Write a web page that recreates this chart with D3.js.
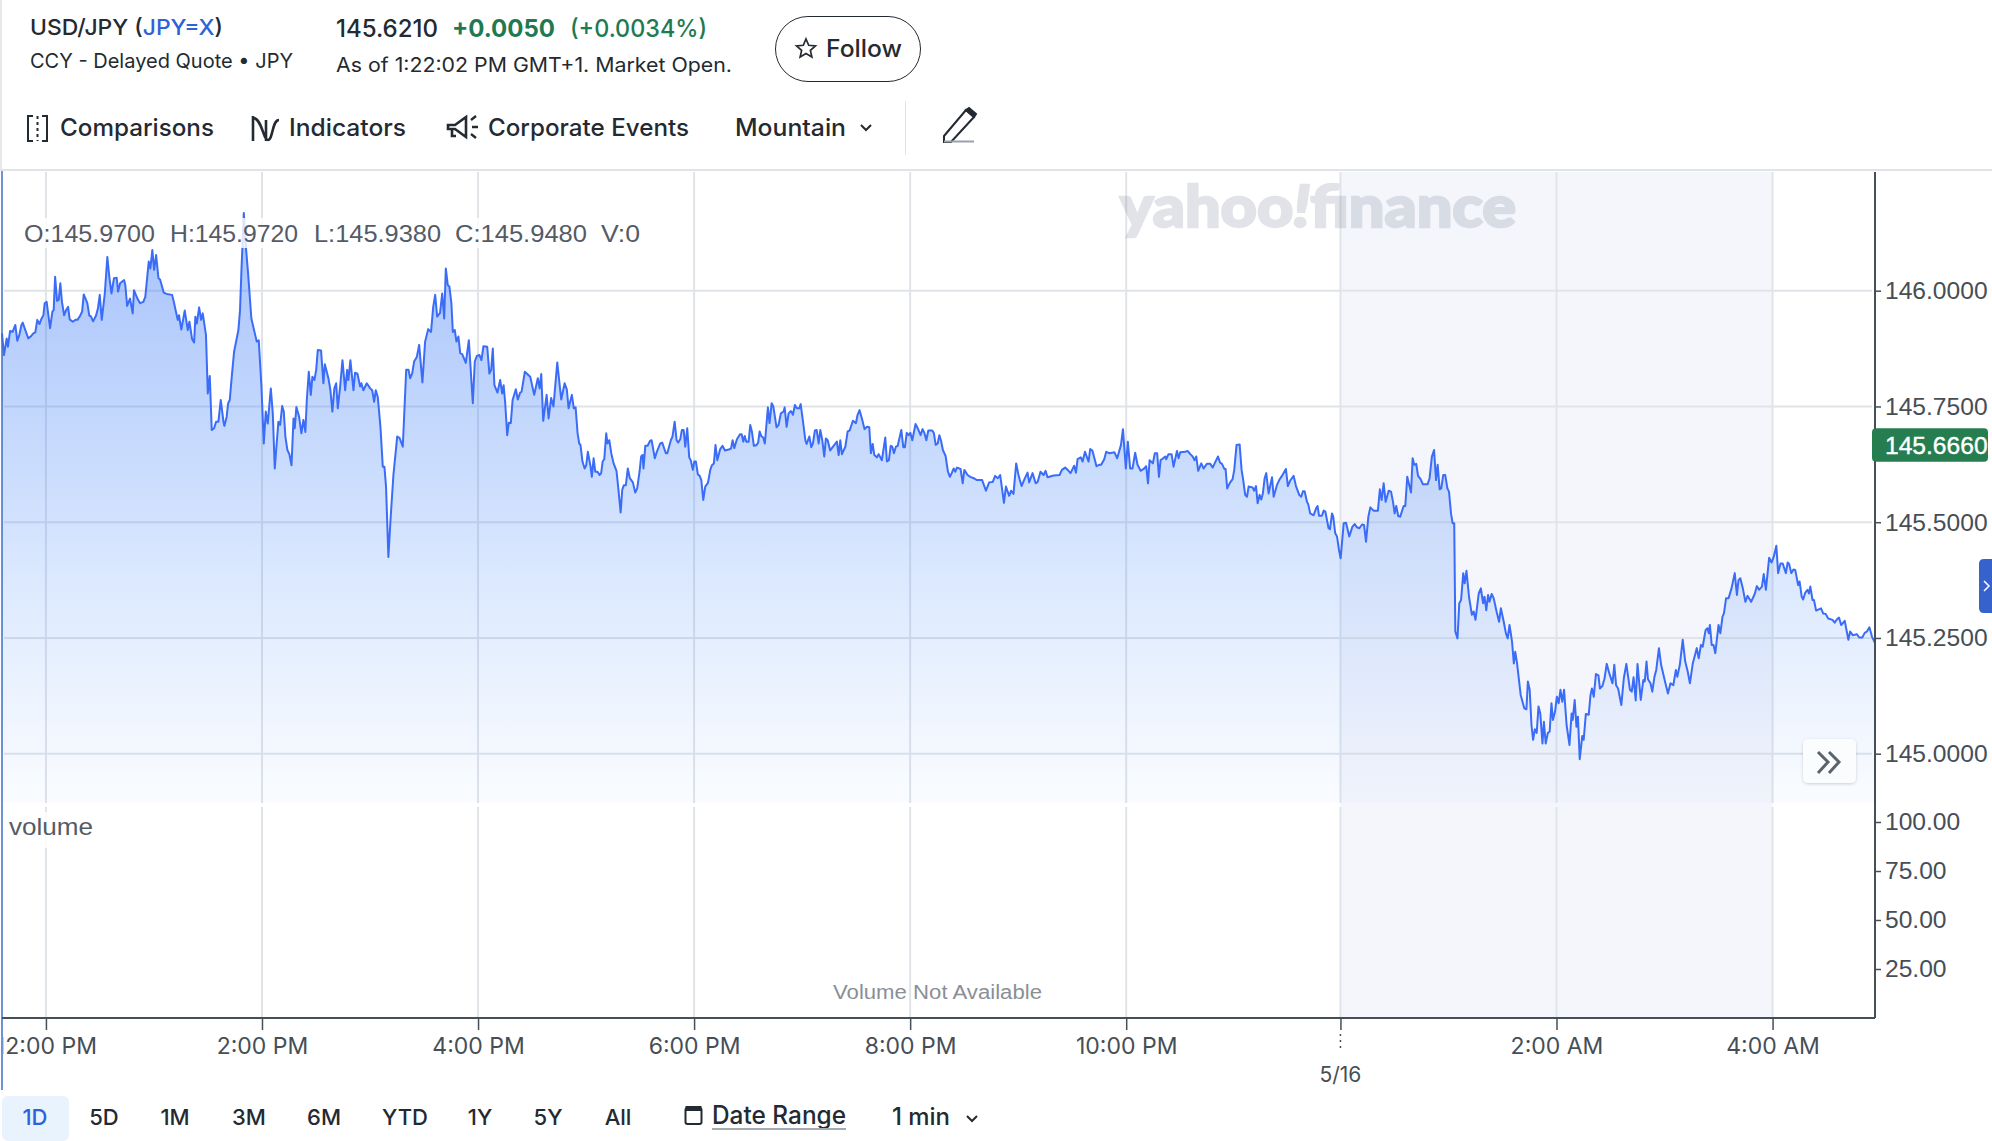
<!DOCTYPE html>
<html><head><meta charset="utf-8">
<script src="https://cdn.jsdelivr.net/npm/d3@7/dist/d3.min.js"></script>
<style>html,body{margin:0;padding:0;background:#fff;overflow:hidden}svg{display:block}text{font-family:Inter,"Noto Sans",sans-serif}</style>
</head><body><svg id="c" width="1992" height="1141"></svg>
<script>
// ---- data: sample position along the time axis (about one per minute), and the price there
const minutesA=[0,1.1,2.6,3.3,4.5,5.9,7.4,8.5,9.6,10.8,11.5,13.3,14.6,15.9,17.4,18.5,19.6,20.8,22,23,23.7,24.8,26.7,28,28.7,29.5,30.6,31.5,32.4,33.3,34.5,35.6,36.7,37.6,39.3,40.8,41.9,43.3,44.5,45.4,47.4,48.5,49.3,50.6,52.2,53.3,54.3,55.4,57.1,58.5,59.6,60.8,62.2,63.7,64.5,65.6,67.8,68.5,69.5,71.1,72.6,73.3,75.2,76.7,78.5,79.6,81.5,82.4,83.5,84.5,85.6,86.9,87.8,89.8,91.5,94.5,95.6,97.6,98.3,99.6,101.5,103.2,104.1,105.6,106.7,107.4,108.2,109.5,110.6,111.5,113.3,114.3,115.4,116.5,117.8,118.9,120.2,121.5,123,123.5,124.8,125.6,126.5,127.6,128.9,131.3,132.2,133,134.3,135.6,136.7,138.5,141.5,142.6,144.1,145.4,146.5,147.6,149.3,150.4,151.5,153.5,154.5,155.6,156.5,157.4,158.5,159.6,160.8,161.9,162.6,163.5,165,166.3,167.4,168.5,169.3,170.4,171.5,172.4,173.5,174.5,175.4,177.2,178.5,179.3,181.3,182.4,183.5,184.6,185.6,186.5,187.8,189.1,190.6,191.7,192.4,193.5,195.2,196.1,197.4,198.9,199.6,200.7,202.6,204.5,205.6,206.7,207.6,208.7,210.2,211.5,212.4,213.3,214.6,215.9,217.4,219.5,220.8,222.6,224.5,225.8,226.7,227.8,228.9,230.4,231.7,233.5,235,236.7,238.3,239.5,240.6,241.7,243.3,244.5,245.6,246.5,247.6,248.5,249.6,250.4,251.5,252.4,253.5,254.5,255.6,257.6,259.3,261.5,262.6,263.7,265.2,266.3,267.4,269.5,270.7,271.7,272.6,273.5,275.2,276.7];
const pricesA=[145.908,145.861,145.897,145.879,145.913,145.911,145.926,145.892,145.904,145.926,145.931,145.911,145.897,145.901,145.908,145.910,145.937,145.928,145.940,145.947,145.973,145.976,145.919,145.955,145.958,146.030,145.978,145.980,146.016,145.976,145.947,145.958,145.965,145.938,145.933,145.937,145.937,145.945,145.955,145.992,145.973,145.946,145.945,145.934,145.946,145.962,145.991,145.937,145.994,146.073,146.030,145.994,146.027,146.028,145.998,146.016,146.023,146.012,145.967,145.983,145.951,146.001,145.983,145.973,145.976,145.987,146.063,146.048,146.088,146.045,146.077,146.027,146.024,145.996,145.993,145.991,145.973,145.937,145.947,145.916,145.957,145.915,145.933,145.895,145.888,145.944,145.929,145.964,145.937,145.951,145.904,145.778,145.816,145.699,145.703,145.717,145.717,145.764,145.717,145.708,145.728,145.757,145.764,145.814,145.868,145.915,145.958,146.045,146.168,146.088,146.037,145.940,145.890,145.893,145.793,145.670,145.739,145.713,145.789,145.735,145.616,145.717,145.710,145.751,145.739,145.685,145.656,145.647,145.623,145.724,145.703,145.749,145.728,145.692,145.721,145.695,145.764,145.825,145.775,145.814,145.807,145.829,145.872,145.871,145.800,145.841,145.811,145.785,145.739,145.789,145.800,145.746,145.793,145.850,145.785,145.829,145.807,145.850,145.785,145.823,145.821,145.793,145.800,145.785,145.800,145.789,145.785,145.760,145.785,145.771,145.706,145.620,145.620,145.577,145.425,145.512,145.602,145.685,145.682,145.663,145.829,145.829,145.811,145.821,145.847,145.857,145.883,145.802,145.890,145.917,145.911,145.965,145.991,145.944,145.952,145.994,145.940,146.048,146.012,146.009,145.973,145.911,145.915,145.890,145.901,145.865,145.863,145.844,145.893,145.757,145.847,145.859,145.861,145.850,145.880,145.879,145.821,145.829,145.875,145.796,145.780,145.807];
const minutesB=[277.8,278.6,279.5,280.6,281.5,282.6,283.6,285.4,286.5,287.8,288.6,290.4,293.4,295.6,297.6,298.6,299.5,300.6,302.5,303.6,305,306.3,308.4,310.6,312.5,313.7,314.7,316.5,317.6,318.6,319.7,320.6,321.3,322.4,323.6,324.5,325.4,326.9,327.6,328.6,329.5,330.8,331.9,332.8,333.6,334.5,335.6,336.3,337.3,338.4,339.7,341.3,342.4,343.6,344.5,345.4,346.5,347.6,348.7,350.4,351.7,352.8,354.1,355,355.8,356.3,357.3,358.6,360,360.8,362.6,363.7,365.6,366.7,368.7,369.5,371.5,372.4,373.6,374.7,375.6,376.7,377.6,378.6,379.5,380.6,381.7,382.6,383.7,384.5,385.4,386.5,387.5,388.4,389.5,390.6,392.1,393.4,394.3,395.4,396.3,397.3,398.9,400.2,401.5,403.6,404.9,405.8,406.7,408.2,409.9,410.8,411.7,412.5,413.4,414.7,415.6,416.5,417.6,418.9,420,420.8,421.7,422.8,423.7,425.4,426.3,427.5,428.4,430.2,431.3,432.6,434.1,434.7,435.8,436.9,438.2,439.3,440.4,441.5,442.8,443.6,444.9,446.2,446.9,448.4,449.5,450.4,451.5,452.5,453.6,454.5,455.6,456.7,457.6,458.6,460,461.9,463.7,464.7,465.6,466.5,468.4,469.7,470.8,472.6,474.3,475.2,476.3,477.6,479.1,480.4,481.7,482.6,483.6,484.5,486,486.9,488.7,490.6,491.5,492.6,493.6,494.5,495.4,496.5,497.5,499.5,500.6,501.5,502.5,503.6,504.5,505.6,507.4,508.6,510.2,511.3,512.3,513.4,514.5,516.7,517.6,518.6,519.7,520.6,521.5,522.6,524.1,525.4,526.5,527.6,528.6,529.5,530.4,532.4,533.6,534.5,536.3,537.8,539.7,541.5];
const pricesB=[145.778,145.796,145.757,145.688,145.715,145.714,145.764,145.787,145.765,145.780,145.782,145.825,145.814,145.775,145.811,145.789,145.820,145.719,145.775,145.724,145.768,145.750,145.845,145.765,145.800,145.787,145.746,145.775,145.746,145.748,145.692,145.670,145.667,145.631,145.616,145.623,145.652,145.620,145.598,145.638,145.609,145.609,145.602,145.606,145.631,145.636,145.692,145.670,145.677,145.649,145.627,145.611,145.570,145.521,145.570,145.580,145.580,145.616,145.595,145.586,145.564,145.573,145.609,145.642,145.645,145.616,145.665,145.665,145.676,145.677,145.638,145.652,145.670,145.672,145.649,145.649,145.677,145.685,145.717,145.677,145.672,145.679,145.699,145.699,145.663,145.703,145.640,145.633,145.613,145.631,145.631,145.603,145.600,145.591,145.548,145.577,145.585,145.613,145.623,145.627,145.667,145.634,145.658,145.665,145.655,145.657,145.659,145.677,145.660,145.679,145.690,145.690,145.674,145.686,145.674,145.674,145.710,145.696,145.665,145.666,145.672,145.696,145.686,145.683,145.670,145.748,145.714,145.757,145.750,145.705,145.710,145.735,145.739,145.748,145.706,145.735,145.740,145.732,145.753,145.746,145.746,145.755,145.717,145.677,145.669,145.685,145.662,145.670,145.698,145.699,145.670,145.699,145.677,145.642,145.681,145.677,145.655,145.665,145.674,145.645,145.677,145.647,145.663,145.696,145.698,145.719,145.714,145.732,145.742,145.724,145.701,145.706,145.705,145.649,145.669,145.645,145.640,145.647,145.634,145.683,145.631,145.634,145.665,145.663,145.649,145.663,145.665,145.699,145.662,145.662,145.693,145.688,145.693,145.677,145.712,145.703,145.688,145.701,145.693,145.677,145.698,145.698,145.692,145.667,145.670,145.688,145.677,145.656,145.643,145.609,145.598,145.607,145.616,145.609,145.618,145.615,145.584,145.613,145.602,145.598,145.595,145.591];
const minutesC=[544.4,546.5,548.3,550.3,551.6,553.1,554.4,556.5,557.6,559.4,560.5,561.8,563.3,564.8,566.3,567.9,569.6,570.5,572.4,574.1,575.2,576.8,578.5,579.6,580.7,584.1,587.4,588.7,590.5,592.4,593.5,595.5,596.5,597.4,599.2,600.2,601.5,603.5,604.4,605.7,607.9,609.4,610.5,612.2,613.3,615.2,617.9,619.4,621.5,622.6,624.2,625.3,626.6,627.9,629.4,630.7,632.4,634.1,635.5,636.5,637.4,639.2,640.3,641.6,642.6,643.5,644.6,646.1,646.6,647.9,649.6,650.7,652.6,653.5,654.4,657.2,658.5,660,661.3,662.4,663.3,664.4,666.1,667.4,669.2,671.1,672.4,674.4,675.4,676.5,677.6,678.9,679.6,680.5,682,683.5,684.4,685.7,687.4,688.5,689.4,690.5,691.5,692.4,694.6,695.5,696.5,697.4,698.5,699.4,700.3,701.3,702.2,703.5,705.4,706.3,708.1,709.4,710.9,713.1,714.2,715.5,717.4,718.7,720.5,721.6,722.6,723.5,724.8,725.5,726.6,728.5,730,730.7,731.5,733.1,734.1,735,736.8,737.6,738.7,739.4,740.5,741.5,742.6,743.5,745.2,746.5,748.3,750,751.3,752.6,753.9,755.4,756.5,757.6,758.9,760,761.8,764.2,765.3,766.3,767.4,768.5,770.2,771.5,772.6,773.5,774.4,775.5,776.6,778.5,779.4,780.5,782.6,783.5,784.4,785.5,786.5,787.9,789.2,791.8,792.9,794.2,795.4,796.5,797.4,798.5,799.4,800.5,801.6,802.8,803.7,804.8,805.7,806.6];
const pricesC=[145.591,145.568,145.586,145.587,145.600,145.595,145.602,145.542,145.577,145.557,145.568,145.561,145.627,145.598,145.578,145.593,145.607,145.586,145.606,145.584,145.587,145.609,145.602,145.611,145.597,145.601,145.602,145.613,145.618,145.611,145.606,145.622,145.607,145.636,145.640,145.631,145.652,145.631,145.658,145.654,145.621,145.624,145.624,145.636,145.652,145.649,145.651,145.638,145.667,145.701,145.616,145.674,145.616,145.616,145.650,145.624,145.611,145.615,145.621,145.584,145.634,145.627,145.649,145.649,145.598,145.634,145.637,145.642,145.636,145.647,145.647,145.620,145.654,145.638,145.651,145.652,145.654,145.647,145.642,145.634,145.642,145.611,145.627,145.616,145.626,145.626,145.618,145.634,145.642,145.629,145.626,145.615,145.615,145.573,145.585,145.593,145.613,145.667,145.668,145.613,145.591,145.559,145.555,145.577,145.575,145.568,145.578,145.541,145.559,145.549,145.562,145.595,145.606,145.562,145.597,145.555,145.580,145.591,145.600,145.615,145.578,145.590,145.600,145.578,145.559,145.555,145.567,145.567,145.544,145.539,145.519,145.515,145.531,145.535,145.514,145.514,145.525,145.523,145.487,145.485,145.519,145.512,145.476,145.469,145.440,145.422,145.498,145.499,145.469,145.490,145.496,145.489,145.487,145.495,145.494,145.458,145.512,145.532,145.525,145.525,145.571,145.548,145.584,145.544,145.568,145.566,145.544,145.519,145.535,145.513,145.512,145.535,145.535,145.598,145.564,145.638,145.624,145.626,145.600,145.593,145.582,145.582,145.595,145.642,145.656,145.591,145.624,145.571,145.573,145.602,145.602,145.573,145.566,145.519,145.498,145.498];
const minutesD=[807.2,808.4,809.4,810.4,811.6,812.4,813.4,814.8,816.4,817.4,818.4,820.2,821.4,822.6,823.4,824.4,825.4,826.2,827.4,828.5,830.1,831.5,832.5,834.1,835.3,836.3,837.3,838.7,839.7,840.5,841.5,843.5,845.5,846.7,847.5,848.5,849.5,850.4,851.4,852.4,853.4,854.4,855.6,856.4,857.4,858.6,859.6,860.6,861.4,862.6,863.6,864.6,865.6,866.6,867.6,869,870.6,871.8,872.4,873.5,874.5,875.3,876.3,877.7,878.5,879.7,881.3,882.3,883.1,884.1,885.3,886.7,887.5,888.9,890.1,891.3,892.7,894.5,895.5,896.5,897.6,899.4,900.8,902.2,904.2,905.2,906.2,907.4,908.4,910.2,911.6,912.4,913.4,914.2,915.6,916.6,917.8,918.8,920.3,921.5,923.9,925.3,926.7,928.3,929.7,930.5,931.9,933.5,934.9,936.3,937.5,939.1,941.3,942.4,943.6,944.6,946.2,947.2,948,948.6,949.6,950.6,951.6,953.4,954.4,955.6,956.4,957.6,959,960.6,962.4,963.6,964.5,965.5,966.9,968.3,969.5,971.5,973.5,974.7,975.9,977.5,978.5,979.7,981.5,982.9,984.1,985.5,986.5,987.8,989,990.8,991.8,992.6,993.8,995,996,997.6,998.4,999.6,1000.4,1001.6,1002.8,1003.6,1004.4,1005.6,1006.4,1007.6,1010.3,1011.5,1012.9,1014.3,1016.7,1017.9,1019.1,1020.3,1021.5,1023.5,1025.5,1026.5,1027.9,1030.3,1031.5,1033.2,1034.6,1035.8,1037.2,1038.6,1040.2];
const pricesD=[145.264,145.249,145.325,145.332,145.390,145.368,145.395,145.339,145.300,145.307,145.289,145.346,145.357,145.325,145.339,145.310,145.343,145.328,145.345,145.336,145.307,145.285,145.314,145.285,145.260,145.249,145.278,145.242,145.195,145.220,145.195,145.127,145.098,145.096,145.156,145.138,145.062,145.030,145.053,145.045,145.102,145.087,145.022,145.069,145.022,145.045,145.048,145.109,145.073,145.091,145.123,145.109,145.138,145.112,145.138,145.062,145.019,145.087,145.073,145.116,145.058,145.080,144.988,145.038,145.030,145.086,145.084,145.127,145.141,145.123,145.172,145.169,145.141,145.146,145.163,145.194,145.174,145.152,145.192,145.148,145.141,145.105,145.163,145.194,145.138,145.134,145.165,145.115,145.194,145.116,145.159,145.156,145.199,145.161,145.152,145.134,145.166,145.181,145.228,145.192,145.152,145.130,145.152,145.148,145.181,145.166,145.192,145.246,145.199,145.177,145.152,145.195,145.228,145.206,145.235,145.231,145.267,145.271,145.260,145.278,145.235,145.235,145.217,145.278,145.260,145.296,145.303,145.336,145.336,145.357,145.390,145.343,145.375,145.379,145.357,145.328,145.341,145.328,145.345,145.362,145.354,145.361,145.388,145.354,145.423,145.413,145.426,145.449,145.390,145.411,145.411,145.390,145.413,145.410,145.390,145.398,145.397,145.364,145.372,145.339,145.333,145.348,145.354,145.346,145.361,145.332,145.332,145.309,145.314,145.303,145.302,145.292,145.289,145.283,145.290,145.294,145.278,145.287,145.246,145.264,145.256,145.258,145.251,145.251,145.261,145.264,145.273,145.253,145.240];
const priceTicks=[146,145.75,145.5,145.25,145];
const volumeTicks=[100,75,50,25];
const timeTicks=[24.4,144.4,264.4,384.4,504.4,624.4,743.4,863.4,983.4];
const timeLabels=["12:00 PM","2:00 PM","4:00 PM","6:00 PM","8:00 PM","10:00 PM","","2:00 AM","4:00 AM"];
const dateTick=743.4, dateLabel="5/16";
const sessionBand=[743.4,983.4];
const rangeButtons=["1D","5D","1M","3M","6M","YTD","1Y","5Y","All"];
const ohlcLabels=["O:145.9700","H:145.9720","L:145.9380","C:145.9480","V:0"];
const lastPrice=145.6660;

// ---- layout
const L=2,R=1875,T=172,PB=803,VT=807,B=1018;
const minutes=[...minutesA,...minutesB,...minutesC,...minutesD];
const prices=[...pricesA,...pricesB,...pricesC,...pricesD];
const data=d3.zip(minutes,prices).map(([m,p])=>({m,p}));
const x=d3.scaleLinear().domain([0,1040.3]).range([L,R]);
const y=d3.scaleLinear().domain([145,146]).range([753.7,290.7]);
const v=d3.scaleLinear().domain([0,100]).range([B,822]);
const svg=d3.select("#c");
const defs=svg.append("defs");
const g=defs.append("linearGradient").attr("id","fill").attr("gradientUnits","userSpaceOnUse").attr("x1",0).attr("x2",0).attr("y1",T).attr("y2",PB);
g.append("stop").attr("offset",0).attr("stop-color","#2f6df6").attr("stop-opacity",.46);
g.append("stop").attr("offset",.5).attr("stop-color","#3f82f8").attr("stop-opacity",.26);
g.append("stop").attr("offset",1).attr("stop-color","#5a9bff").attr("stop-opacity",.03);
defs.append("clipPath").attr("id","xc0").append("rect").attr("x",-43).attr("y",0).attr("width",200).attr("height",60);
const sh=defs.append("filter").attr("id","sh").attr("x","-30%").attr("y","-30%").attr("width","160%").attr("height","160%");
sh.append("feDropShadow").attr("dx",0).attr("dy",1).attr("stdDeviation",1.5).attr("flood-color","#000").attr("flood-opacity",.18);

function txt(par,xx,yy,s,size,weight,fill,width,anchor){
  const n=par.append("text").attr("x",xx).attr("y",yy).text(s).attr("font-size",size).attr("font-weight",weight).attr("fill",fill);
  if(anchor)n.attr("text-anchor",anchor);
  if(width)n.attr("textLength",width).attr("lengthAdjust","spacingAndGlyphs");
  return n;
}
const DARK="#232a31",GREEN="#1f7a52",AX="#464e56",LIB="'Liberation Sans'";

// ---- header
svg.append("line").attr("x1",1).attr("x2",1).attr("y1",0).attr("y2",170).attr("stroke","#e6e8ec").attr("stroke-width",2);
const h=svg.append("g");
const t1=txt(h,30,34.5,"",22,500,DARK);
t1.append("tspan").text("USD/JPY (");
t1.append("tspan").attr("fill","#2e62d9").text("JPY=X");
t1.append("tspan").text(")");
t1.attr("textLength",193).attr("lengthAdjust","spacingAndGlyphs");
txt(h,30,67.5,"CCY - Delayed Quote • JPY",20,400,DARK,263);
txt(h,336,36.5,"145.6210",24,500,DARK,102);
txt(h,452,37,"+0.0050",24,700,GREEN,103);
txt(h,570,37,"(+0.0034%)",24,500,GREEN,137);
txt(h,336,72,"As of 1:22:02 PM GMT+1. Market Open.",20,400,DARK,396);
h.append("rect").attr("x",775.5).attr("y",16.5).attr("width",145).attr("height",65).attr("rx",32.5).attr("fill","#fff").attr("stroke","#232a31").attr("stroke-width",1);
const star=d3.range(10).map(i=>{const r=i%2?4.6:10,a=-Math.PI/2+i*Math.PI/5;return [806+r*Math.cos(a),49+r*Math.sin(a)].join(",")}).join(" ");
h.append("polygon").attr("points",star).attr("fill","none").attr("stroke",DARK).attr("stroke-width",1.7);
txt(h,826,57,"Follow",24,500,DARK,76);
// toolbar
txt(h,60,136,"Comparisons",24,500,DARK,154);
txt(h,289,136,"Indicators",24,500,DARK,117);
txt(h,488,136,"Corporate Events",24,500,DARK,201);
txt(h,735,136,"Mountain",24,500,DARK,111);
const st={fill:"none",stroke:DARK,"stroke-width":2};
const pth=(d,o={})=>{const n=h.append("path").attr("d",d);Object.entries({...st,...o}).forEach(([k,val])=>n.attr(k,val));return n};
pth("M33,116H28V141H33M42,116H47V141H42"); pth("M37.5,116V141",{"stroke-dasharray":"3 3"});
pth("M253,116V141M253,118C262,118 263,140 268,140C273,140 272,120 279,120M266,120V141",{"stroke-width":2.6});
pth("M448,125H455L466,117V137L455,129H448ZM452,129V136H456",{"stroke-width":2.6});
pth("M471,120L476,116M472,127H478M471,134L476,138",{"stroke-width":2.4});
pth("M861,125L866,130L871,125");
h.append("line").attr("x1",905.5).attr("x2",905.5).attr("y1",101).attr("y2",155).attr("stroke","#dfe2e6");
pth("M944,136L966,110L974,117L951,142H944Z"); pth("M966,110L969,108L976,114L974,117Z",{fill:DARK});
h.append("line").attr("x1",944).attr("x2",974).attr("y1",141.5).attr("y2",141.5).attr("stroke","#9aa0a8").attr("stroke-width",2);

// ---- chart background
svg.append("rect").attr("x",0).attr("y",169).attr("width",1992).attr("height",2).attr("fill","#e0e4e9");
svg.append("rect").attr("x",x(sessionBand[0])).attr("y",T).attr("width",x(sessionBand[1])-x(sessionBand[0])).attr("height",B-T).attr("fill","#f5f6fb");
const grid=svg.append("g").attr("stroke","#e0e4e9").attr("stroke-width",2);
grid.selectAll(".vp").data(timeTicks).join("line").attr("class","vp").attr("x1",x).attr("x2",x).attr("y1",T).attr("y2",PB);
grid.selectAll(".vv").data(timeTicks).join("line").attr("class","vv").attr("x1",x).attr("x2",x).attr("y1",VT).attr("y2",B);
grid.selectAll(".hh").data(priceTicks).join("line").attr("class","hh").attr("x1",L+2).attr("x2",1872).attr("y1",y).attr("y2",y);

// watermark
const wm=txt(svg,1120,227,"",58,900,"#3c4c6a").attr("stroke","#3c4c6a").attr("stroke-width",2.4).attr("opacity",.15).style("font-family","Lato");
wm.append("tspan").text("yahoo");
wm.append("tspan").attr("font-style","italic").text("!");
wm.append("tspan").text("finance");
wm.attr("textLength",396).attr("lengthAdjust","spacingAndGlyphs");

// ---- area and line
svg.append("path").datum(data).attr("d",d3.area().x(d=>x(d.m)).y0(PB).y1(d=>y(d.p))).attr("fill","url(#fill)");
svg.append("path").datum(data).attr("d",d3.line().x(d=>x(d.m)).y(d=>y(d.p))).attr("fill","none").attr("stroke","#3a6cf8").attr("stroke-width",2).attr("stroke-linejoin","round");
svg.append("line").attr("x1",2).attr("x2",2).attr("y1",T-1).attr("y2",1090).attr("stroke","#3f6cc8").attr("stroke-width",1.5);

// OHLC legend
svg.append("rect").attr("x",18).attr("y",218).attr("width",630).attr("height",30).attr("fill","#fff").attr("fill-opacity",.82);
const ohlcX=[24,170,314,455,601], ohlcW=[131,128,127,132,39];
ohlcLabels.forEach((s,i)=>txt(svg,ohlcX[i],241.5,s,24,400,"#545b66",ohlcW[i]).style("font-family",LIB));

// volume label
svg.append("rect").attr("x",6).attr("y",812).attr("width",90).attr("height",36).attr("fill","#fff").attr("fill-opacity",.85);
txt(svg,9,835,"volume",24,400,"#545b66",84).style("font-family",LIB);
txt(svg,937.5,999,"Volume Not Available",20,400,"#8a8f96",209,"middle").style("font-family",LIB);

// ---- axes
const styleAxis=a=>{a.selectAll("path").attr("stroke",AX).attr("stroke-width",2);a.selectAll(".tick line").attr("stroke",AX).attr("stroke-width",1.5);a.selectAll("text").attr("fill",AX).style("font-family",LIB).attr("font-size",24.6)};
const yAxis=svg.append("g").attr("transform",`translate(${R},0)`).call(d3.axisRight(y).tickValues(priceTicks).tickFormat(d3.format(".4f")).tickSize(6).tickPadding(4)).call(styleAxis);
yAxis.select(".domain").attr("d",`M0,${T}V${B}`);
const vAxis=svg.append("g").attr("transform",`translate(${R},0)`).call(d3.axisRight(v).tickValues(volumeTicks).tickFormat(d3.format(".2f")).tickSize(6).tickPadding(4)).call(styleAxis);
vAxis.select(".domain").remove();
const xAxis=svg.append("g").attr("transform",`translate(0,${B})`).call(d3.axisBottom(x).tickValues(timeTicks).tickFormat((d,i)=>timeLabels[i]).tickSize(12).tickPadding(8)).call(styleAxis);
xAxis.select(".domain").attr("d",`M${L},0H${R}`);
xAxis.selectAll("text").style("font-family","Inter").attr("font-size",23);
xAxis.selectAll(".tick").filter(d=>d===timeTicks[0]).select("text").attr("clip-path","url(#xc0)");
// date marker
svg.append("line").attr("x1",x(dateTick)).attr("x2",x(dateTick)).attr("y1",1034).attr("y2",1052).attr("stroke",AX).attr("stroke-width",1.5).attr("stroke-dasharray","2 4");
txt(svg,x(dateTick),1081.5,dateLabel,21,400,AX,null,"middle");

// last price tag
svg.append("rect").attr("x",1872).attr("y",y(lastPrice)-17).attr("width",116).attr("height",33.5).attr("rx",4).attr("fill","#257d50");
txt(svg,1885,y(lastPrice)+8.5,d3.format(".4f")(lastPrice),24.6,400,"#fff").attr("stroke","#fff").attr("stroke-width",.4).style("font-family",LIB);

// expand button and side tab
svg.append("rect").attr("x",1803).attr("y",739).attr("width",53).attr("height",44).attr("rx",5).attr("fill","#fbfcfe").attr("filter","url(#sh)");
svg.append("path").attr("d","M1818,752L1828,762L1818,773M1829,752L1839,762L1829,773").attr("fill","none").attr("stroke","#5b636b").attr("stroke-width",3);
svg.append("path").attr("d","M1992,559H1984Q1979,559 1979,564V608Q1979,613 1984,613H1992Z").attr("fill","#3562cc");
svg.append("path").attr("d","M1984,581L1989,586L1984,591").attr("fill","none").attr("stroke","#fff").attr("stroke-width",1.5);

// ---- range buttons
const centers=[35,104,175,249,324,405,480,548,618];
svg.append("rect").attr("x",2).attr("y",1096).attr("width",67).attr("height",45).attr("rx",6).attr("fill","#e8f3fe");
rangeButtons.forEach((b,i)=>txt(svg,centers[i],1125,b,22,500,i?DARK:"#2e62d9",null,"middle"));
svg.append("rect").attr("x",685.5).attr("y",1108).attr("width",16).attr("height",16).attr("rx",2).attr("fill","none").attr("stroke",DARK).attr("stroke-width",2);
svg.append("rect").attr("x",685.5).attr("y",1106).attr("width",16).attr("height",5).attr("fill",DARK);
txt(svg,712,1124,"Date Range",25,500,DARK,134);
svg.append("line").attr("x1",712).attr("x2",846).attr("y1",1129).attr("y2",1129).attr("stroke","#a4aab2").attr("stroke-width",2);
txt(svg,892,1125,"1 min",24,500,DARK,58);
svg.append("path").attr("d","M967,1116L972,1121L977,1116").attr("fill","none").attr("stroke",DARK).attr("stroke-width",2);
[[minutesA,pricesA],[minutesB,pricesB],[minutesC,pricesC],[minutesD,pricesD]].forEach(([a,b],i)=>{if(a.length!==b.length)throw new Error("len "+i+" "+a.length+" "+b.length)});
</script></body></html>
